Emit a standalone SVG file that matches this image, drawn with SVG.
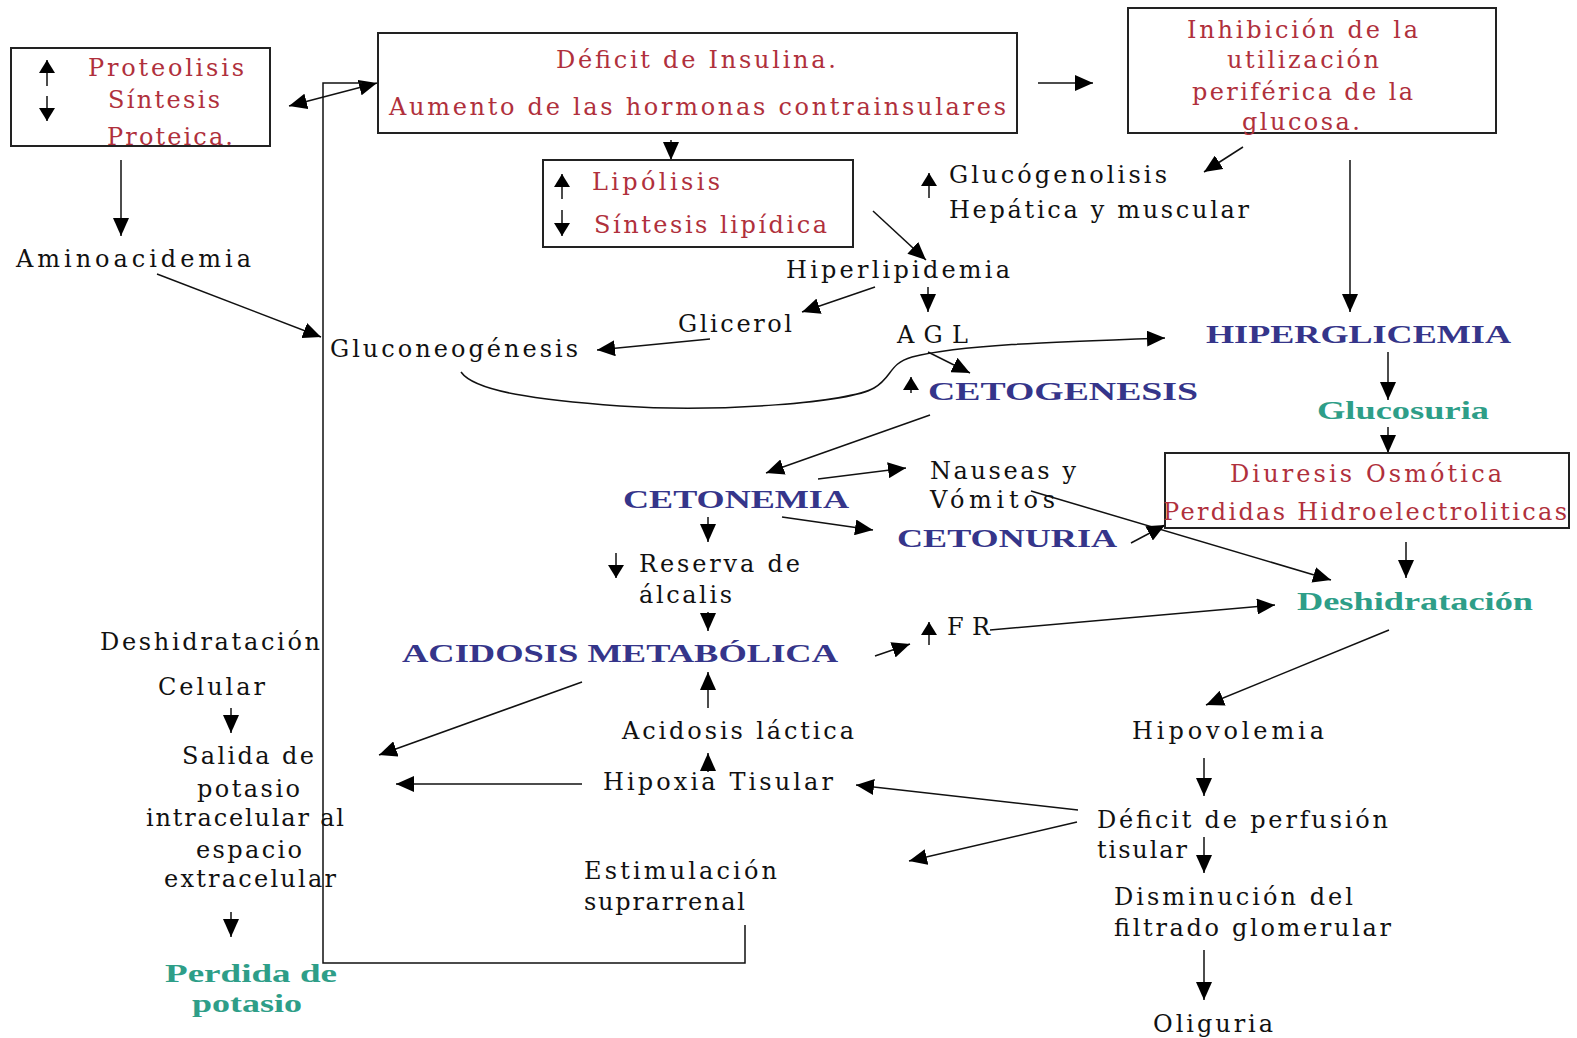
<svg xmlns="http://www.w3.org/2000/svg" width="1577" height="1038" viewBox="0 0 1577 1038">
<style>
.t{font-family:"DejaVu Serif","Liberation Serif",serif;font-size:24px;fill:#111}
.r{fill:#b0303c}
.b{font-family:"Liberation Serif","Times New Roman",serif;font-size:26px;font-weight:bold;fill:#35358a}
.g{font-family:"Liberation Serif","Times New Roman",serif;font-size:26px;font-weight:bold;fill:#2e9e88}
.box{fill:none;stroke:#222;stroke-width:2}
.c{fill:none;stroke:#111;stroke-width:1.5}
.ca{fill:none;stroke:#111;stroke-width:1.5;marker-end:url(#ah)}
.cb{fill:none;stroke:#111;stroke-width:1.5;marker-start:url(#ah);marker-end:url(#ah)}
.sa{fill:none;stroke:#111;stroke-width:1.5;marker-end:url(#sh)}
</style>
<defs>
<marker id="ah" viewBox="0 0 18 16" refX="18" refY="8" markerWidth="18" markerHeight="16" markerUnits="userSpaceOnUse" orient="auto-start-reverse"><path d="M0,0 L18,8 L0,16 z" fill="#000"/></marker>
<marker id="sh" viewBox="0 0 13 16" refX="13" refY="8" markerWidth="13" markerHeight="16" markerUnits="userSpaceOnUse" orient="auto"><path d="M0,0 L13,8 L0,16 z" fill="#000"/></marker>
</defs>
<rect width="1577" height="1038" fill="#fff"/>

<g id="connectors">
<path class="ca" d="M121,160 V236"/>
<path class="ca" d="M157,274 L321,337"/>
<path class="cb" d="M289,106 L377,83"/>
<path class="c" d="M745,925 V963 H323 V83 H362"/>
<path class="ca" d="M671,140 V160"/>
<path class="ca" d="M1038,83 H1093"/>
<path class="ca" d="M1243,147 L1204,172"/>
<path class="ca" d="M1350,160 V312"/>
<path class="ca" d="M873,211 L926,260"/>
<path class="ca" d="M928,287 V312"/>
<path class="ca" d="M875,287 L802,312"/>
<path class="ca" d="M710,339 L597,350"/>
<path class="ca" d="M928,352 L970,373"/>
<path class="ca" d="M461,372 C475,392 540,400 620,406 C720,413 850,402 874,388 C893,377 888,364 912,357 C960,345 1050,342 1165,338"/>
<path class="ca" d="M930,415 L766,473"/>
<path class="ca" d="M818,479 L906,468"/>
<path class="ca" d="M782,517 L873,530"/>
<path class="ca" d="M708,517 V542"/>
<path class="ca" d="M708,612 V631"/>
<path class="ca" d="M1031,491 L1331,580"/>
<path class="ca" d="M1131,543 L1165,525"/>
<path class="ca" d="M1388,352 V400"/>
<path class="ca" d="M1388,427 V453"/>
<path class="ca" d="M1406,542 V578"/>
<path class="ca" d="M875,656 L910,644"/>
<path class="ca" d="M990,630 L1275,605"/>
<path class="ca" d="M1389,630 L1206,705"/>
<path class="ca" d="M1204,758 V796"/>
<path class="ca" d="M1204,837 V873"/>
<path class="ca" d="M1204,950 V1000"/>
<path class="ca" d="M1078,810 L856,785"/>
<path class="ca" d="M1077,822 L909,861"/>
<path class="ca" d="M708,772 V753"/>
<path class="ca" d="M708,708 V672"/>
<path class="ca" d="M582,682 L379,755"/>
<path class="ca" d="M582,784 H396"/>
<path class="ca" d="M231,708 V733"/>
<path class="ca" d="M231,912 V937"/>
</g>

<g id="n-proteolisis">
<rect class="box" x="11" y="48" width="259" height="98"/>
<path class="sa" d="M47,86 V60"/>
<path class="sa" d="M47,96 V121"/>
<text class="t r" x="88" y="76" textLength="156" lengthAdjust="spacing">Proteolisis</text>
<text class="t r" x="108" y="108" textLength="112" lengthAdjust="spacing">Síntesis</text>
<text class="t r" x="107" y="145" textLength="126" lengthAdjust="spacing">Proteica.</text>
</g>
<g id="n-aminoacidemia"><text class="t" x="16" y="267" textLength="235" lengthAdjust="spacing">Aminoacidemia</text></g>
<g id="n-deficit">
<rect class="box" x="378" y="33" width="639" height="100"/>
<text class="t r" x="556" y="68" textLength="280" lengthAdjust="spacing">Déficit de Insulina.</text>
<text class="t r" x="389" y="115" textLength="617" lengthAdjust="spacing">Aumento de las hormonas contrainsulares</text>
</g>
<g id="n-inhibicion">
<rect class="box" x="1128" y="8" width="368" height="125"/>
<text class="t r" x="1187" y="38" textLength="231" lengthAdjust="spacing">Inhibición de la</text>
<text class="t r" x="1227" y="68" textLength="152" lengthAdjust="spacing">utilización</text>
<text class="t r" x="1192" y="100" textLength="221" lengthAdjust="spacing">periférica de la</text>
<text class="t r" x="1242" y="130" textLength="118" lengthAdjust="spacing">glucosa.</text>
</g>
<g id="n-lipolisis">
<rect class="box" x="543" y="160" width="310" height="87"/>
<path class="sa" d="M562,199 V174"/>
<path class="sa" d="M562,210 V236"/>
<text class="t r" x="592" y="190" textLength="128" lengthAdjust="spacing">Lipólisis</text>
<text class="t r" x="594" y="233" textLength="233" lengthAdjust="spacing">Síntesis lipídica</text>
</g>
<g id="n-glucogenolisis">
<path class="sa" d="M929,198 V173"/>
<text class="t" x="949" y="183" textLength="218" lengthAdjust="spacing">Glucógenolisis</text>
<text class="t" x="949" y="218" textLength="300" lengthAdjust="spacing">Hepática y muscular</text>
</g>
<g id="n-hiperlipidemia"><text class="t" x="786" y="278" textLength="224" lengthAdjust="spacing">Hiperlipidemia</text></g>
<g id="n-glicerol"><text class="t" x="678" y="332" textLength="114" lengthAdjust="spacing">Glicerol</text></g>
<g id="n-agl"><text class="t" x="897" y="343" textLength="71" lengthAdjust="spacing">AGL</text></g>
<g id="n-gluconeogenesis"><text class="t" x="330" y="357" textLength="248" lengthAdjust="spacing">Gluconeogénesis</text></g>
<g id="n-cetogenesis">
<path class="sa" d="M911,393 V377"/>
<text class="b" x="928" y="400" textLength="270" lengthAdjust="spacingAndGlyphs">CETOGENESIS</text>
</g>
<g id="n-hiperglicemia"><text class="b" x="1206" y="343" textLength="305" lengthAdjust="spacingAndGlyphs">HIPERGLICEMIA</text></g>
<g id="n-glucosuria"><text class="g" x="1317" y="419" textLength="172" lengthAdjust="spacingAndGlyphs">Glucosuria</text></g>
<g id="n-diuresis">
<rect class="box" x="1165" y="453" width="404" height="75"/>
<text class="t r" x="1230" y="482" textLength="272" lengthAdjust="spacing">Diuresis Osmótica</text>
<text class="t r" x="1163" y="520" textLength="404" lengthAdjust="spacing">Perdidas Hidroelectroliticas</text>
</g>
<g id="n-cetonemia"><text class="b" x="623" y="508" textLength="226" lengthAdjust="spacingAndGlyphs">CETONEMIA</text></g>
<g id="n-nauseas">
<text class="t" x="930" y="479" textLength="146" lengthAdjust="spacing">Nauseas y</text>
<text class="t" x="930" y="508" textLength="125" lengthAdjust="spacing">Vómitos</text>
</g>
<g id="n-cetonuria"><text class="b" x="897" y="547" textLength="220" lengthAdjust="spacingAndGlyphs">CETONURIA</text></g>
<g id="n-reserva">
<path class="sa" d="M616,553 V578"/>
<text class="t" x="639" y="572" textLength="161" lengthAdjust="spacing">Reserva de</text>
<text class="t" x="639" y="603" textLength="93" lengthAdjust="spacing">álcalis</text>
</g>
<g id="n-acidosis"><text class="b" x="402" y="662" textLength="436" lengthAdjust="spacingAndGlyphs">ACIDOSIS METABÓLICA</text></g>
<g id="n-fr">
<path class="sa" d="M929,645 V622"/>
<text class="t" x="947" y="635" textLength="43" lengthAdjust="spacing">FR</text>
</g>
<g id="n-deshidratacion"><text class="g" x="1297" y="610" textLength="236" lengthAdjust="spacingAndGlyphs">Deshidratación</text></g>
<g id="n-hipovolemia"><text class="t" x="1132" y="739" textLength="192" lengthAdjust="spacing">Hipovolemia</text></g>
<g id="n-deficit-perfusion">
<text class="t" x="1097" y="828" textLength="291" lengthAdjust="spacing">Déficit de perfusión</text>
<text class="t" x="1097" y="858" textLength="90" lengthAdjust="spacing">tisular</text>
</g>
<g id="n-disminucion">
<text class="t" x="1114" y="905" textLength="239" lengthAdjust="spacing">Disminución del</text>
<text class="t" x="1114" y="936" textLength="277" lengthAdjust="spacing">filtrado glomerular</text>
</g>
<g id="n-oliguria"><text class="t" x="1153" y="1032" textLength="120" lengthAdjust="spacing">Oliguria</text></g>
<g id="n-acidosis-lactica"><text class="t" x="622" y="739" textLength="232" lengthAdjust="spacing">Acidosis láctica</text></g>
<g id="n-hipoxia"><text class="t" x="603" y="790" textLength="230" lengthAdjust="spacing">Hipoxia Tisular</text></g>
<g id="n-estimulacion">
<text class="t" x="584" y="879" textLength="193" lengthAdjust="spacing">Estimulación</text>
<text class="t" x="584" y="910" textLength="161" lengthAdjust="spacing">suprarrenal</text>
</g>
<g id="n-deshid-celular">
<text class="t" x="100" y="650" textLength="220" lengthAdjust="spacing">Deshidratación</text>
<text class="t" x="158" y="695" textLength="107" lengthAdjust="spacing">Celular</text>
</g>
<g id="n-salida">
<text class="t" x="182" y="764" textLength="132" lengthAdjust="spacing">Salida de</text>
<text class="t" x="197" y="797" textLength="103" lengthAdjust="spacing">potasio</text>
<text class="t" x="146" y="826" textLength="198" lengthAdjust="spacing">intracelular al</text>
<text class="t" x="196" y="858" textLength="106" lengthAdjust="spacing">espacio</text>
<text class="t" x="164" y="887" textLength="172" lengthAdjust="spacing">extracelular</text>
</g>
<g id="n-perdida-potasio">
<text class="g" x="165" y="982" textLength="172" lengthAdjust="spacingAndGlyphs">Perdida de</text>
<text class="g" x="192" y="1012" textLength="110" lengthAdjust="spacingAndGlyphs">potasio</text>
</g>
</svg>
